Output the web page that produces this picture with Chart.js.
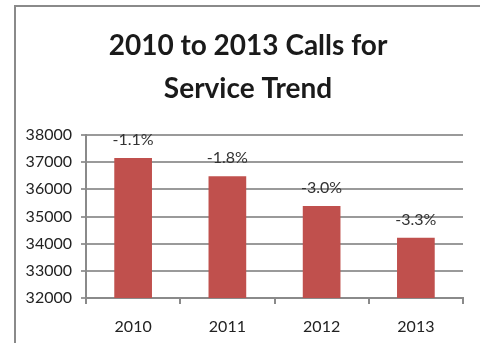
<!DOCTYPE html>
<html>
<head>
<meta charset="utf-8">
<script src="https://cdn.jsdelivr.net/npm/chart.js@4"></script>
<style>
  html, body { margin: 0; padding: 0; background: #fff; }
  #wrap { position: relative; width: 480px; height: 343px; }
  /* frame around the chart, cut off on the right and bottom */
  #frame {
    position: absolute; left: 14px; top: 5px; right: 0; bottom: 0;
    border-left: 2px solid #8a8a8a; border-top: 2px solid #8a8a8a;
  }
  canvas { position: absolute; left: 0; top: 0; }
</style>
</head>
<body>
<div id="wrap">
  <div id="frame"></div>
  <canvas id="callsChart" width="480" height="343"></canvas>
</div>
<script>
// Chart data
const years = ['2010', '2011', '2012', '2013'];
const calls = [37150, 36480, 35390, 34220];
const changeLabels = ['-1.1%', '-1.8%', '-3.0%', '-3.3%'];
const yTicks = [32000, 33000, 34000, 35000, 36000, 37000, 38000];
const titleLines = ['2010 to 2013 Calls for', 'Service Trend'];

const FONT = 'Lato, "Open Sans", sans-serif';

// Two-line title, centred inside the frame rather than the canvas
const titlePlugin = {
  id: 'frameTitle',
  afterDraw(chart) {
    const ctx = chart.ctx;
    ctx.save();
    ctx.font = 'bold 28px ' + FONT;
    ctx.fillStyle = '#1a1a1a';
    ctx.textAlign = 'center';
    ctx.textBaseline = 'middle';
    titleLines.forEach((line, i) => {
      ctx.fillText(line, 248, 46 + i * 43);
    });
    ctx.restore();
  }
};

// Draw the percent change text above each bar
const changeLabelPlugin = {
  id: 'changeLabels',
  afterDatasetsDraw(chart) {
    const ctx = chart.ctx;
    const meta = chart.getDatasetMeta(0);
    ctx.save();
    ctx.font = '16px ' + FONT;
    ctx.fillStyle = '#333';
    ctx.textAlign = 'center';
    ctx.textBaseline = 'middle';
    meta.data.forEach((bar, i) => {
      ctx.fillText(changeLabels[i], bar.x, bar.y - 18);
    });
    ctx.restore();
  }
};

function initCallsChart() {
  const ctx = document.getElementById('callsChart');
  new Chart(ctx, {
    type: 'bar',
    data: {
      labels: years,
      datasets: [{
        data: calls,
        backgroundColor: '#C0504D',
        borderWidth: 0,
        categoryPercentage: 0.8,
        barPercentage: 0.5
      }]
    },
    options: {
      responsive: false,
      animation: false,
      layout: {
        padding: { top: 135, right: 17, bottom: 0, left: 0 }
      },
      plugins: {
        legend: { display: false },
        tooltip: { enabled: false },
        title: { display: false }
      },
      scales: {
        y: {
          min: yTicks[0],
          max: yTicks[yTicks.length - 1],
          afterBuildTicks(scale) {
            scale.ticks = yTicks.map(v => ({ value: v }));
          },
          afterFit(scale) { scale.width = 86; },
          border: { color: '#8a8a8a', width: 2 },
          grid: { color: '#9a9a9a', lineWidth: 2, tickLength: 5 },
          ticks: {
            color: '#222',
            font: { family: FONT, size: 16 },
            padding: 9,
            callback: function(value) {
              return String(value);
            }
          }
        },
        x: {
          afterFit(scale) { scale.height = 45; },
          border: { color: '#8a8a8a', width: 2 },
          grid: {
            display: true,
            offset: true,
            drawOnChartArea: false,
            color: '#8a8a8a',
            lineWidth: 2,
            tickLength: 6
          },
          ticks: {
            color: '#222',
            font: { family: FONT, size: 16 },
            padding: 13
          }
        }
      }
    },
    plugins: [changeLabelPlugin, titlePlugin]
  });
}

window.addEventListener('load', initCallsChart);
</script>
</body>
</html>
